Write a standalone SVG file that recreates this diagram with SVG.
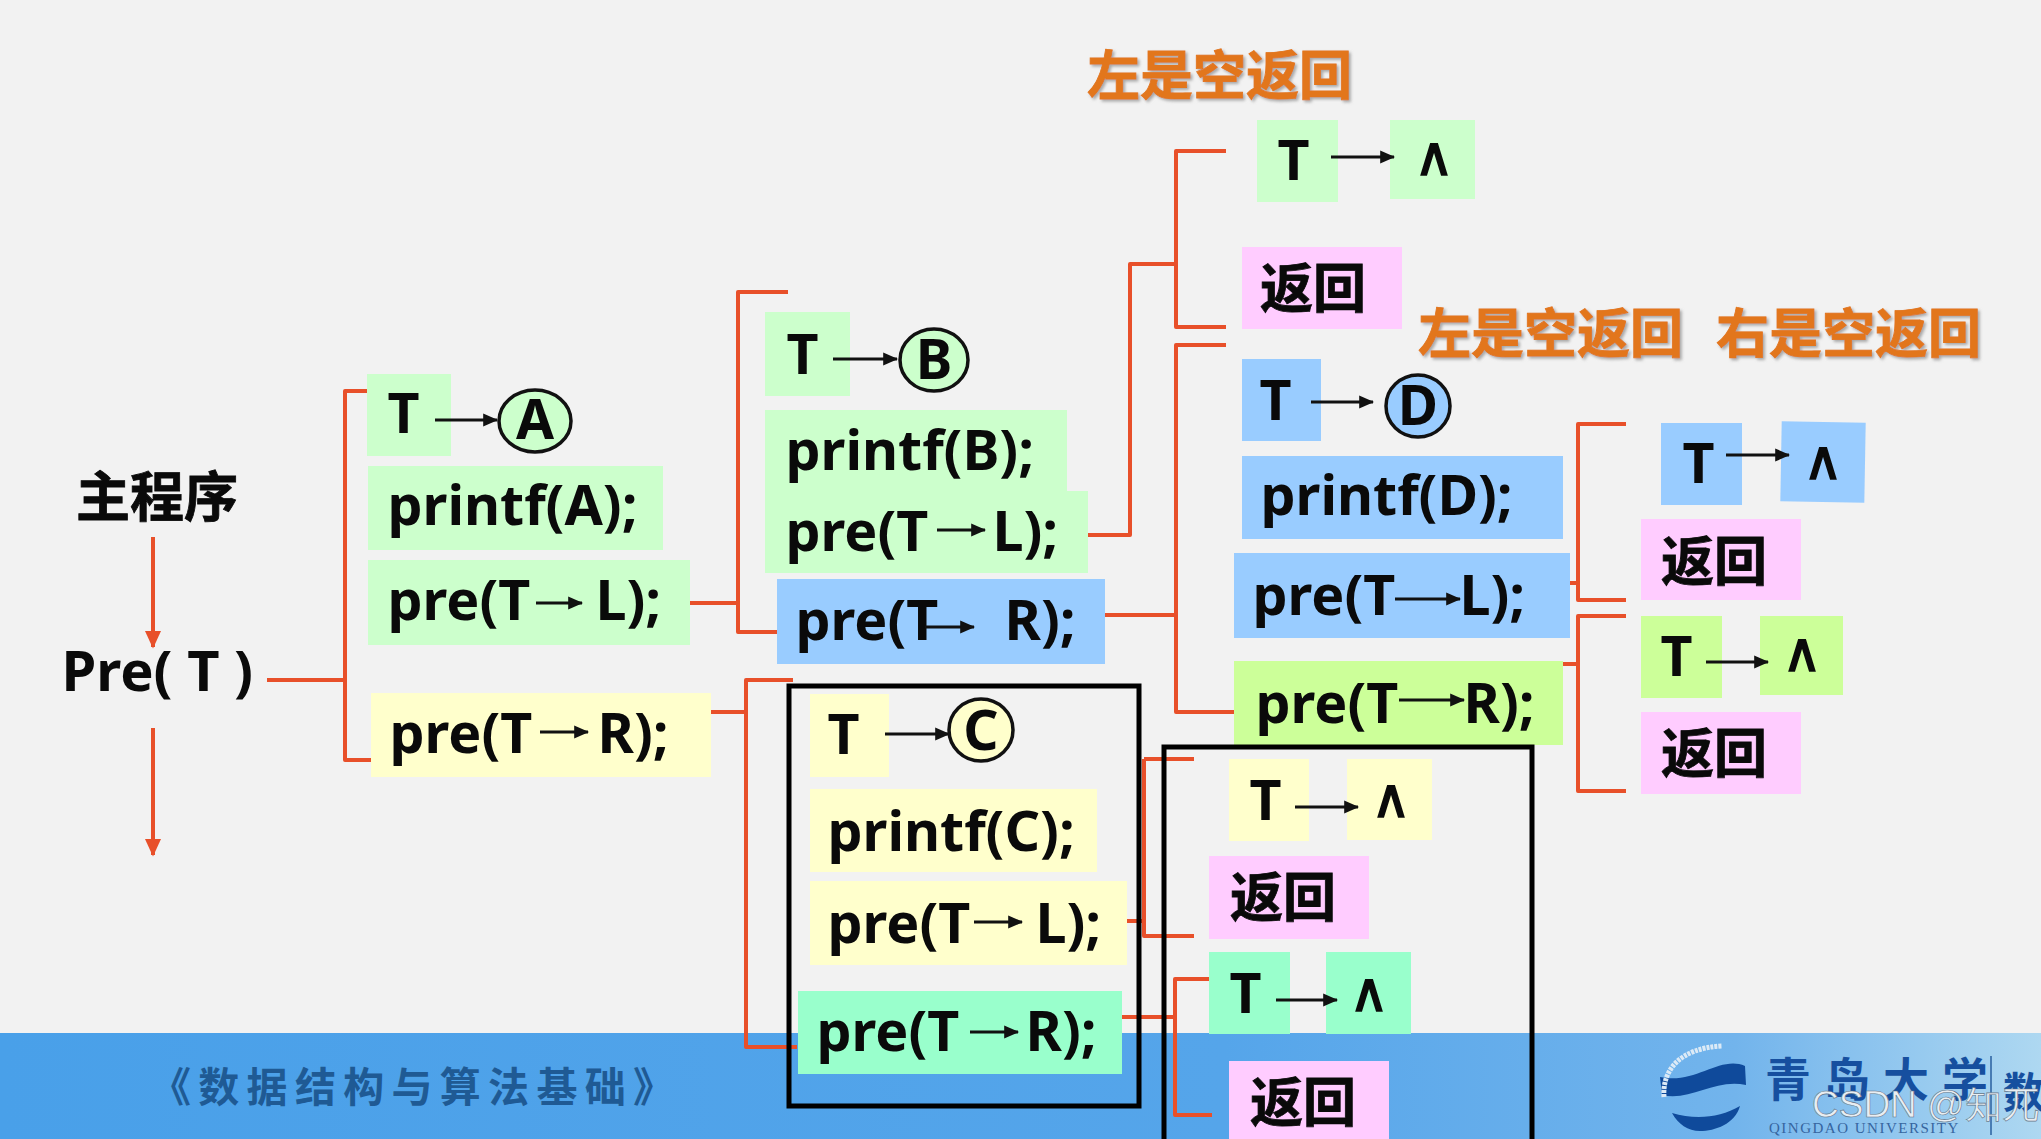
<svg xmlns="http://www.w3.org/2000/svg" width="2041" height="1139" viewBox="0 0 2041 1139">
<style>
.t{font-family:"Noto Sans","Noto Sans CJK SC",sans-serif;font-weight:700;font-size:55.5px;fill:#0a0a0a;transform:translateX(-1.5px)}
.c{font-family:"Noto Sans CJK SC",sans-serif;font-weight:700;font-size:53px;fill:#0a0a0a;stroke:#0a0a0a;stroke-width:.8}
.h{font-family:"Noto Sans CJK SC",sans-serif;font-weight:700;font-size:53px;fill:#e2761e;stroke:#e2761e;stroke-width:.8;filter:url(#sh)}
.n{font-family:"DejaVu Sans",sans-serif;font-weight:400;font-size:54px;fill:#0a0a0a;stroke:#0a0a0a;stroke-width:1.6;text-anchor:middle}
.l{font-family:"Noto Sans",sans-serif;font-weight:700;font-size:55px;fill:#0a0a0a;text-anchor:middle}
.o{fill:none;stroke:#e8502a;stroke-width:4;stroke-linejoin:round}
.a{stroke:#111;stroke-width:3;fill:none;marker-end:url(#ah)}
.r{stroke:#111;stroke-width:3.5}
.f{fill:none;stroke:#000;stroke-width:5}
.g{fill:#ccffcc}.y{fill:#ffffcc}.b{fill:#99ccff}.p{fill:#ffccff}.m{fill:#99ffcc}.v{fill:#ccff99}
</style>
<defs>
<marker id="ah" markerWidth="5" markerHeight="4.4" refX="4.6" refY="2.2" orient="auto"><path d="M0 0L5 2.2L0 4.4Z" fill="#111"/></marker>
<marker id="ar" markerWidth="4.4" markerHeight="4" refX="4" refY="2" orient="auto"><path d="M0 0L4.4 2L0 4Z" fill="#e8502a"/></marker>
<filter id="sh" x="-5%" y="-10%" width="110%" height="130%"><feDropShadow dx="2" dy="2" stdDeviation="1.5" flood-color="#888" flood-opacity=".7"/></filter>
<linearGradient id="fg" x1="0" x2="1" y1="0" y2="0"><stop offset="0" stop-color="#49a0e9"/><stop offset=".6" stop-color="#55a5ea"/><stop offset=".85" stop-color="#72b4ec"/><stop offset="1" stop-color="#aed8f1"/></linearGradient>
</defs>
<rect width="2041" height="1139" fill="#f2f2f2"/>
<g id="footer">
<rect y="1033" width="2041" height="106" fill="url(#fg)"/>
<text x="150" y="1102" font-family="Noto Sans CJK SC,sans-serif" font-size="41" font-weight="700" letter-spacing="7.3" fill="#1f5a94">《数据结构与算法基础》</text>
<g id="logo">
<path d="M1660 1077C1695 1085 1720 1055 1745 1066L1746 1085C1715 1078 1690 1102 1662 1095Z" fill="#0f4a9b"/>
<path d="M1672 1113C1695 1120 1720 1118 1740 1106C1735 1124 1715 1131 1700 1131C1688 1131 1678 1124 1672 1113Z" fill="#0f4a9b"/>
<path d="M1664 1097C1662 1070 1680 1048 1722 1046" fill="none" stroke="#dceaf6" stroke-width="5" stroke-dasharray="3 1"/>
<text x="1765" y="1096" font-family="Noto Sans CJK SC,sans-serif" font-size="46" font-weight="700" fill="#164f9f" letter-spacing="13">青岛大学</text>
<text x="1769" y="1133" font-family="Liberation Serif,serif" font-size="15" fill="#36659f" letter-spacing="1.5">QINGDAO UNIVERSITY</text>
<path d="M1991 1056V1135" stroke="#2a5f9f" stroke-width="1.5"/>
<text x="2003" y="1108" font-family="Noto Sans CJK SC,sans-serif" font-size="42" font-weight="700" fill="#164f9f">数</text>
</g>
</g>
<g id="connectors">
<path class="o" d="M153 537V647" marker-end="url(#ar)"/>
<path class="o" d="M153 728V855" marker-end="url(#ar)"/>
<path class="o" d="M267 680H345M368 391H345V760H371"/>
<path class="o" d="M660 603H738M788 292H738V632H777"/>
<path class="o" d="M711 712H746M793 680H746V1047H797"/>
<path class="o" d="M1088 535H1130V264H1176M1226 151H1176V327H1226"/>
<path class="o" d="M1105 615H1176M1226 345H1176V712H1234"/>
<path class="o" d="M1570 583H1578M1626 424H1578V600H1626"/>
<path class="o" d="M1563 664H1578M1626 616H1578V791H1626"/>
<path class="o" d="M1127 921H1144M1194 759H1144M1144 759V936H1194"/>
<path class="o" d="M1122 1017H1175M1212 979H1175V1115H1212"/>
</g>
<g id="nodeA">
<rect class="g" x="367" y="374" width="84" height="82"/><text class="t" x="389" y="433">T</text>
<path class="a" d="M435 420H497"/><ellipse class="r" fill="#ccffcc" cx="535" cy="421" rx="36" ry="31"/><text class="l" x="535" y="439">A</text>
<rect class="g" x="368" y="466" width="295" height="84"/><text class="t" x="389" y="525">printf(A);</text>
<rect class="g" x="368" y="560" width="322" height="85"/><text class="t" x="389" y="620">pre(T</text><path class="a" d="M536 603H582"/><text class="t" x="597" y="620">L);</text>
<rect class="y" x="371" y="693" width="340" height="84"/><text class="t" x="391" y="753">pre(T</text><path class="a" d="M540 732H588"/><text class="t" x="599" y="753">R);</text>
</g>
<g id="main">
<text class="c" x="76" y="517" style="font-size:54px">主程序</text>
<text class="t" x="63" y="691" style="font-size:56px">Pre( T )</text>
</g>
<g id="nodeB">
<rect class="g" x="765" y="312" width="85" height="84"/><text class="t" x="788" y="374">T</text>
<path class="a" d="M833 359H897"/><ellipse class="r" fill="#ccffcc" cx="934" cy="360" rx="34" ry="31"/><text class="l" x="934" y="379">B</text>
<rect class="g" x="765" y="410" width="302" height="85"/><text class="t" x="787" y="470">printf(B);</text>
<rect class="g" x="765" y="491" width="323" height="82"/><text class="t" x="787" y="551">pre(T</text><path class="a" d="M937 530H985"/><text class="t" x="994" y="551">L);</text>
<rect class="b" x="777" y="579" width="328" height="85"/><text class="t" x="797" y="640">pre(T</text><path class="a" d="M925 627H974"/><text class="t" x="1006" y="640">R);</text>
</g>
<g id="nodeC">
<rect class="y" x="810" y="694" width="79" height="83"/><text class="t" x="829" y="754">T</text>
<path class="a" d="M885 734H949"/><ellipse class="r" fill="#ffffcc" cx="981" cy="730" rx="32" ry="31"/><text class="l" x="981" y="750">C</text>
<rect class="y" x="810" y="789" width="287" height="83"/><text class="t" x="829" y="851">printf(C);</text>
<rect class="y" x="810" y="881" width="317" height="84"/><text class="t" x="829" y="943">pre(T</text><path class="a" d="M974 922H1022"/><text class="t" x="1037" y="943">L);</text>
<rect class="m" x="798" y="991" width="324" height="83"/><text class="t" x="818" y="1051">pre(T</text><path class="a" d="M970 1032H1018"/><text class="t" x="1027" y="1051">R);</text>
<rect class="f" x="789" y="686" width="350" height="420"/>
</g>
<g id="nodeD">
<rect class="b" x="1242" y="359" width="79" height="82"/><text class="t" x="1261" y="420">T</text>
<path class="a" d="M1311 402H1373"/><ellipse class="r" fill="#99ccff" cx="1418" cy="406" rx="32" ry="31"/><text class="l" x="1418" y="425">D</text>
<rect class="b" x="1242" y="456" width="321" height="83"/><text class="t" x="1262" y="515">printf(D);</text>
<rect class="b" x="1234" y="553" width="336" height="85"/><text class="t" x="1254" y="615">pre(T</text><path class="a" d="M1395 599H1460"/><text class="t" x="1461" y="615">L);</text>
<rect class="v" x="1234" y="661" width="329" height="84"/><text class="t" x="1257" y="723">pre(T</text><path class="a" d="M1399 700H1464"/><text class="t" x="1465" y="723">R);</text>
</g>
<g id="leafB-L">
<rect class="g" x="1257" y="120" width="81" height="82"/><text class="t" x="1279" y="180">T</text>
<rect class="g" x="1390" y="120" width="85" height="79"/><path class="a" d="M1331 157H1394"/><text class="n" x="1434" y="175">∧</text>
<rect class="p" x="1242" y="247" width="160" height="82"/><text class="c" x="1260" y="308">返回</text>
</g>
<g id="leafD-L">
<rect class="b" x="1661" y="423" width="81" height="82"/><text class="t" x="1684" y="483">T</text>
<rect class="b" x="1781" y="422" width="84" height="80" transform="rotate(1 1823 463)"/><path class="a" d="M1726 455H1789"/><text class="n" x="1823" y="479">∧</text>
<rect class="p" x="1641" y="519" width="160" height="81"/><text class="c" x="1661" y="581">返回</text>
</g>
<g id="leafD-R">
<rect class="v" x="1641" y="616" width="81" height="82"/><text class="t" x="1662" y="676">T</text>
<rect class="v" x="1760" y="616" width="83" height="79"/><path class="a" d="M1706 662H1768"/><text class="n" x="1802" y="671">∧</text>
<rect class="p" x="1641" y="712" width="160" height="82"/><text class="c" x="1661" y="773">返回</text>
</g>
<g id="leafC-L">
<rect class="y" x="1229" y="759" width="80" height="82"/><text class="t" x="1251" y="820">T</text>
<rect class="y" x="1347" y="759" width="85" height="81"/><path class="a" d="M1295 807H1358"/><text class="n" x="1391" y="817">∧</text>
<rect class="p" x="1209" y="856" width="160" height="83"/><text class="c" x="1230" y="917">返回</text>
</g>
<g id="leafC-R">
<rect class="m" x="1209" y="952" width="81" height="82"/><text class="t" x="1231" y="1013">T</text>
<rect class="m" x="1326" y="952" width="85" height="82"/><path class="a" d="M1276 1000H1337"/><text class="n" x="1369" y="1011">∧</text>
<rect class="p" x="1229" y="1061" width="160" height="78"/><text class="c" x="1250" y="1122">返回</text>
<rect class="f" x="1164" y="747" width="368" height="395"/>
</g>
<g id="labels">
<text class="h" x="1087" y="95">左是空返回</text>
<text class="h" x="1418" y="353">左是空返回</text>
<text class="h" x="1716" y="353">右是空返回</text>
</g>
<text x="1812" y="1117" font-family="Liberation Sans,sans-serif" font-size="37" fill="#e9eef2" stroke="#5f7488" stroke-width=".6">CSDN @知兀</text>
</svg>
